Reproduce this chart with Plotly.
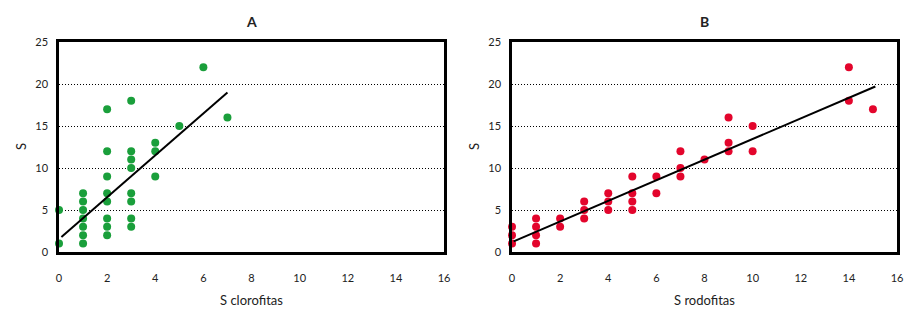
import plotly.graph_objects as go

# Panel A: S clorofitas vs S
chl_x = [0, 0, 1, 1, 1, 1, 1, 1, 1, 2, 2, 2, 2, 2, 2, 2, 2,
         3, 3, 3, 3, 3, 3, 3, 3, 4, 4, 4, 5, 6, 7]
chl_y = [5, 1, 7, 6, 5, 4, 3, 2, 1, 17, 12, 9, 7, 6, 4, 3, 2,
         18, 12, 11, 10, 7, 6, 4, 3, 13, 12, 9, 15, 22, 16]
chl_fit_x = [0.1, 7.0]
chl_fit_y = [1.8, 19.0]

# Panel B: S rodofitas vs S
rod_x = [0, 0, 0, 1, 1, 1, 1, 2, 2, 3, 3, 3, 4, 4, 4, 5, 5, 5, 5,
         6, 6, 7, 7, 7, 8, 9, 9, 9, 10, 10, 14, 14, 15]
rod_y = [3, 2, 1, 4, 3, 2, 1, 4, 3, 6, 5, 4, 7, 6, 5, 9, 7, 6, 5,
         9, 7, 12, 10, 9, 11, 16, 13, 12, 15, 12, 22, 18, 17]
rod_fit_x = [0.07, 15.1]
rod_fit_y = [1.27, 19.7]

x_ticks = [0, 2, 4, 6, 8, 10, 12, 14, 16]
y_ticks = [0, 5, 10, 15, 20, 25]

GREEN = "#1a9f3b"
RED = "#e3052c"
FONT = "Lato, 'Open Sans', sans-serif"

fig = go.Figure()
fig.add_trace(go.Scatter(x=chl_x, y=chl_y, mode="markers", xaxis="x", yaxis="y",
                         marker=dict(color=GREEN, size=8), cliponaxis=False, showlegend=False))
fig.add_trace(go.Scatter(x=chl_fit_x, y=chl_fit_y, mode="lines", xaxis="x", yaxis="y",
                         line=dict(color="black", width=2), showlegend=False))
fig.add_trace(go.Scatter(x=rod_x, y=rod_y, mode="markers", xaxis="x2", yaxis="y2",
                         marker=dict(color=RED, size=8), cliponaxis=False, showlegend=False))
fig.add_trace(go.Scatter(x=rod_fit_x, y=rod_fit_y, mode="lines", xaxis="x2", yaxis="y2",
                         line=dict(color="black", width=2), showlegend=False))

xd1 = [59 / 922, 444 / 922]
xd2 = [512 / 922, 897 / 922]
yd = [1 - 252 / 327, 1 - 42 / 327]

xcommon = dict(range=[0, 16], tickvals=x_ticks, showgrid=False, zeroline=False,
               showline=True, linecolor="black", linewidth=2.5, mirror=True, automargin=False,
               ticks="", ticklabelstandoff=14, tickfont=dict(size=11, color="#222"))
ycommon = dict(range=[0, 25], tickvals=y_ticks, showgrid=True, gridcolor="black",
               griddash="1px,2px", gridwidth=1, zeroline=False, automargin=False,
               showline=True, linecolor="black", linewidth=2.5, mirror=True,
               ticks="", ticklabelstandoff=6, tickfont=dict(size=11, color="#222"))


def label(text, x, y, size=13, angle=0):
    return dict(text=text, x=x, y=y, xref="paper", yref="paper", xanchor="center",
                yanchor="middle", textangle=angle, showarrow=False,
                font=dict(size=size, color="#222"))


fig.update_layout(
    width=922, height=327,
    margin=dict(l=0, r=0, t=0, b=0, autoexpand=False),
    paper_bgcolor="white", plot_bgcolor="white",
    font=dict(family=FONT, color="#222"),
    xaxis=dict(domain=xd1, anchor="y", **xcommon),
    yaxis=dict(domain=yd, anchor="x", **ycommon),
    xaxis2=dict(domain=xd2, anchor="y2", **xcommon),
    yaxis2=dict(domain=yd, anchor="x2", **ycommon),
    annotations=[
        label("<b>A</b>", (xd1[0] + xd1[1]) / 2, 1 - 21 / 327, 14),
        label("<b>B</b>", (xd2[0] + xd2[1]) / 2, 1 - 21 / 327, 14),
        label("S clorofitas", (xd1[0] + xd1[1]) / 2, 1 - 300 / 327),
        label("S rodofitas", (xd2[0] + xd2[1]) / 2, 1 - 300 / 327),
        label("S", 21 / 922, 1 - 147 / 327, angle=-90),
        label("S", 474 / 922, 1 - 147 / 327, angle=-90),
    ],
)

fig.write_html("out.html", config={"displayModeBar": False},
               post_script="document.body.style.margin='0';document.body.style.padding='0';")
